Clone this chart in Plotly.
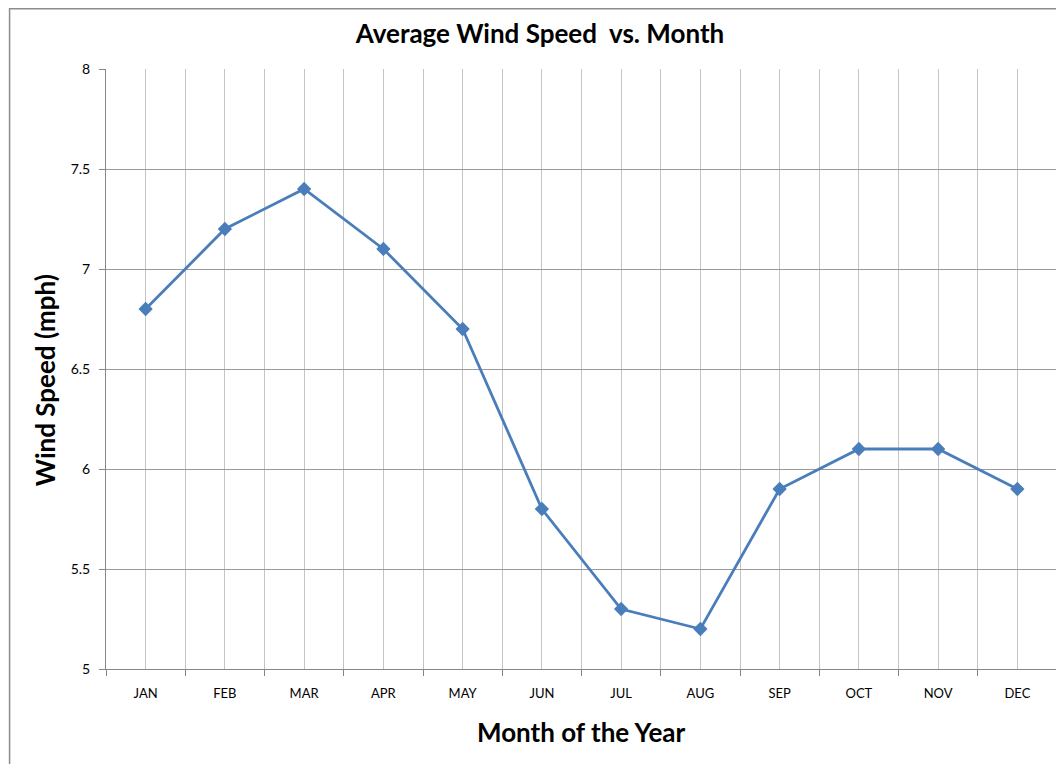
import plotly.graph_objects as go

months = ["JAN", "FEB", "MAR", "APR", "MAY", "JUN", "JUL", "AUG", "SEP", "OCT", "NOV", "DEC"]
wind_speed = [6.8, 7.2, 7.4, 7.1, 6.7, 5.8, 5.3, 5.2, 5.9, 6.1, 6.1, 5.9]
y_ticks = [5, 5.5, 6, 6.5, 7, 7.5, 8]
y_ticktext = ["5", "5.5", "6", "6.5", "7", "7.5", "8"]

# the page body has an 8px margin; work in page pixels and convert
OFF = 8
W, H = 1064 - OFF, 764 - OFF
L, R, T, B = 105.5 - OFF, 1057.3 - OFF, 69.3 - OFF, 669.3 - OFF
pw, ph = R - L, B - T

x_idx = list(range(len(months)))

fig = go.Figure()
fig.add_trace(go.Scatter(
    x=x_idx, y=wind_speed, mode="lines+markers",
    line=dict(color="#4A7EBB", width=2.8),
    marker=dict(symbol="diamond", size=11, color="#4A7EBB"),
    showlegend=False, cliponaxis=False,
))

font = "Lato, 'Open Sans', sans-serif"

fig.update_layout(
    width=W, height=H,
    margin=dict(l=L, r=W - R, t=T, b=H - B, autoexpand=False),
    paper_bgcolor="white", plot_bgcolor="white",
    title=dict(text="<b>Average Wind Speed  vs. Month</b>", x=(540 - OFF) / W, xanchor="center",
               y=1 - (34 - OFF) / H, yanchor="middle", xref="container", yref="container",
               font=dict(family=font, size=26, color="#000000")),
    xaxis=dict(
        range=[-0.5, len(months) - 0.5],
        tickvals=x_idx, ticktext=months, ticks="",
        showgrid=True, gridcolor="#c4c4c4", gridwidth=1,
        showline=True, linecolor="#868686", linewidth=1,
        zeroline=False,
        tickfont=dict(family=font, size=13, color="#000000"),
        ticklabelstandoff=12,
        minor=dict(tickvals=[i - 0.5 for i in range(len(months) + 1)],
                   ticks="outside", ticklen=6, tickcolor="#868686",
                   showgrid=True, gridcolor="#c4c4c4", gridwidth=1),
        fixedrange=True,
    ),
    yaxis=dict(
        range=[5, 8], tickvals=y_ticks, ticktext=y_ticktext,
        ticks="outside", ticklen=6, tickcolor="#868686",
        showgrid=True, gridcolor="#9a9a9a", gridwidth=1,
        showline=True, linecolor="#868686", linewidth=1,
        zeroline=False,
        tickfont=dict(family=font, size=14, color="#000000"),
        ticklabelstandoff=6,
        fixedrange=True,
    ),
    annotations=[
        dict(text="<b>Month of the Year</b>", x=581 - OFF, y=732 - OFF, xref="paper", yref="paper",
             showarrow=False, xanchor="center", yanchor="middle",
             font=dict(family=font, size=26, color="#000000")),
        dict(text="<b>Wind Speed (mph)</b>", x=44 - OFF, y=381 - OFF, xref="paper", yref="paper",
             showarrow=False, xanchor="center", yanchor="middle", textangle=-90,
             font=dict(family=font, size=26, color="#000000")),
    ],
    shapes=[
        dict(type="rect", xref="paper", yref="paper",
             x0=(1 - L) / pw, x1=(1100 - L) / pw,
             y0=(B - 800) / ph, y1=(B - 1) / ph,
             line=dict(color="#8c8c8c", width=1.5), layer="below"),
    ],
)

# convert pixel annotation positions into paper fractions
for a in fig.layout.annotations:
    a.x = (a.x - L) / pw
    a.y = (B - a.y) / ph

fig.write_html("out.html")
